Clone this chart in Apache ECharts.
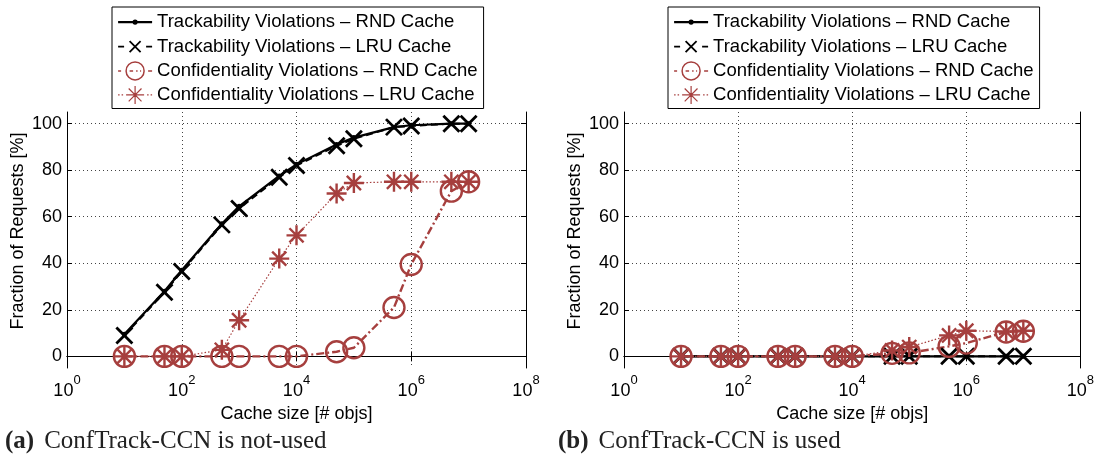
<!DOCTYPE html>
<html>
<head>
<meta charset="utf-8">
<script src="https://cdn.jsdelivr.net/npm/echarts@6/dist/echarts.min.js"></script>
<style>
html,body{margin:0;padding:0;background:#fff;}
#chart{width:1097px;height:455px;}
</style>
</head>
<body>
<div id="chart"></div>
<script>
// ---------- data ----------
const cacheSizes = [10, 50, 100, 500, 1000, 5000, 1e4, 5e4, 1e5, 5e5, 1e6, 5e6, 1e7];
const seriesNames = [
  'Trackability Violations – RND Cache',
  'Trackability Violations – LRU Cache',
  'Confidentiality Violations – RND Cache',
  'Confidentiality Violations – LRU Cache'
];
// (a) ConfTrack-CCN not used
const trackRndA = [9.5, 28, 37, 57, 64.5, 77.5, 82.5, 91, 94, 98.5, 99.3, 100, 100];
const trackLruA = [9, 27.5, 36.5, 56.5, 63.5, 77, 82, 90.5, 93.5, 98.5, 99, 100, 100];
const confRndA  = [0, 0, 0, 0, 0, 0, 0, 2, 3.7, 21, 39.5, 71, 75];
const confLruA  = [0, 0, 0, 2.8, 15.5, 42, 52, 70, 74.5, 75, 75, 75, 75];
// (b) ConfTrack-CCN used
const trackRndB = [0, 0, 0, 0, 0, 0, 0, 0, 0, 0, 0, 0, 0];
const trackLruB = [0, 0, 0, 0, 0, 0, 0, 0, 0, 0, 0, 0, 0];
const confRndB  = [0, 0, 0, 0, 0, 0, 0, 1.3, 1.5, 4.3, 5.7, 10.5, 10.8];
const confLruB  = [0, 0, 0, 0, 0, 0, 0, 2.5, 4, 9, 11, 10.7, 11];
const yTicks = [0, 20, 40, 60, 80, 100];
const captions = ['ConfTrack-CCN is not-used', 'ConfTrack-CCN is used'];
const captionTags = ['(a)', '(b)'];
const xAxisName = 'Cache size [# objs]';
const yAxisName = 'Fraction of Requests [%]';

// ---------- styles ----------
const RED = '#a63f3e';
const SANS = 'Liberation Sans, Arial, Helvetica, sans-serif';
const SERIF = 'Liberation Serif, Times New Roman, serif';
const X_SYM = 'path://M0,0L10,10M10,0L0,10';
const AST_SYM = 'path://M5,0L5,10M0,5L10,5M1.46,1.46L8.54,8.54M8.54,1.46L1.46,8.54';

const grids = [
  {left: 67, top: 112, width: 459, height: 256},
  {left: 624, top: 112, width: 459, height: 256}
];

function pairs(ys) { return cacheSizes.map((x, i) => [x, ys[i]]); }

const xAxes = [], yAxes = [], series = [];
const gridLine = {show: true, lineStyle: {color: '#444', type: [1, 3], width: 1}};
grids.forEach((g, gi) => {
  const supRich = {
    b: {fontSize: 18, fontFamily: SANS, color: '#000', lineHeight: 26, verticalAlign: 'bottom'},
    s: {fontSize: 13, fontFamily: SANS, color: '#000', lineHeight: 13, verticalAlign: 'top'}
  };
  xAxes.push({
    type: 'log', logBase: 10, min: 1, max: 1e8, interval: 2, gridIndex: gi, position: 'bottom',
    axisLine: {show: true, lineStyle: {color: '#000', width: 1}},
    axisTick: {show: true, inside: true, length: 5, lineStyle: {color: '#000'}},
    minorTick: {show: false},
    splitLine: gridLine,
    axisLabel: {
      margin: 6, color: '#000',
      formatter: v => '{b|10}{s|' + Math.round(Math.log10(v)) + '}',
      rich: supRich
    },
    name: xAxisName, nameLocation: 'middle', nameGap: 33,
    nameTextStyle: {fontFamily: SANS, fontSize: 18, color: '#000'}
  });
  xAxes.push({
    type: 'log', logBase: 10, min: 1, max: 1e8, interval: 2, gridIndex: gi, position: 'top',
    axisLine: {show: true, lineStyle: {color: '#000', width: 1}},
    axisTick: {show: true, inside: true, length: 5, lineStyle: {color: '#000'}},
    splitLine: {show: false}, axisLabel: {show: false}
  });
  yAxes.push({
    type: 'value', min: -5, max: 105, gridIndex: gi, position: 'left',
    axisLine: {show: true, lineStyle: {color: '#000', width: 1}},
    axisTick: {show: true, inside: true, length: 5, customValues: yTicks, lineStyle: {color: '#000'}},
    splitLine: gridLine,
    axisLabel: {customValues: yTicks, margin: 5, fontFamily: SANS, fontSize: 18, color: '#000'},
    name: yAxisName, nameLocation: 'middle', nameGap: 40, nameRotate: 90,
    nameTextStyle: {fontFamily: SANS, fontSize: 18, color: '#000', padding: [0, 0, 0, 18]}
  });
  yAxes.push({
    type: 'value', min: -5, max: 105, gridIndex: gi, position: 'right',
    axisLine: {show: true, lineStyle: {color: '#000', width: 1}},
    axisTick: {show: true, inside: true, length: 5, customValues: yTicks, lineStyle: {color: '#000'}},
    splitLine: {show: false}, axisLabel: {show: false}
  });
  const data = gi === 0 ? [trackRndA, trackLruA, confRndA, confLruA] : [trackRndB, trackLruB, confRndB, confLruB];
  const xi = gi * 2, yi = gi * 2;
  series.push({
    name: seriesNames[0], type: 'line', xAxisIndex: xi, yAxisIndex: yi, data: pairs(data[0]),
    symbol: 'circle', symbolSize: 5,
    itemStyle: {color: '#000'}, lineStyle: {color: '#000', width: 2.2, type: 'solid'}
  });
  series.push({
    name: seriesNames[1], type: 'line', xAxisIndex: xi, yAxisIndex: yi, data: pairs(data[1]),
    symbol: X_SYM, symbolSize: 16, symbolKeepAspect: true,
    itemStyle: {color: 'rgba(0,0,0,0)', borderColor: '#000', borderWidth: 2.8},
    lineStyle: {color: '#000', width: 2, type: [7, 4]}
  });
  series.push({
    name: seriesNames[2], type: 'line', xAxisIndex: xi, yAxisIndex: yi, data: pairs(data[2]),
    symbol: 'circle', symbolSize: 21,
    itemStyle: {color: 'rgba(0,0,0,0)', borderColor: RED, borderWidth: 2.4},
    lineStyle: {color: RED, width: 2.4, type: [8, 3, 2, 3]}
  });
  series.push({
    name: seriesNames[3], type: 'line', xAxisIndex: xi, yAxisIndex: yi, data: pairs(data[3]),
    symbol: AST_SYM, symbolSize: 20, symbolKeepAspect: true,
    itemStyle: {color: 'rgba(0,0,0,0)', borderColor: RED, borderWidth: 2.4},
    lineStyle: {color: RED, width: 1.2, type: [1.5, 2]}
  });
});

// legend icons (34 x 20 box)
const legendIcons = [
  {icon: 'path://M0,0M34,20M0,10L34,10M15.5,10A1.5,1.5,0,1,0,18.5,10A1.5,1.5,0,1,0,15.5,10',
   itemStyle: {color: '#000', borderColor: '#000', borderWidth: 2.2}},
  {icon: 'path://M0,0M34,20M0,10L6,10M28,10L34,10M11.5,4.5L22.5,15.5M22.5,4.5L11.5,15.5',
   itemStyle: {color: 'rgba(0,0,0,0)', borderColor: '#000', borderWidth: 1.8}},
  {icon: 'path://M0,0M34,20M8,10A9,9,0,1,0,26,10A9,9,0,1,0,8,10M0,10L3,10M30,10L34,10M11.5,10L15,10M18,10L19.5,10M22,10L23,10',
   itemStyle: {color: 'rgba(0,0,0,0)', borderColor: RED, borderWidth: 1.5}},
  {icon: 'path://M0,0M34,20M17,1L17,19M8,10L26,10M10.6,3.6L23.4,16.4M23.4,3.6L10.6,16.4M0,10L1.5,10M3.5,10L5,10M29,10L30.5,10M32.5,10L34,10',
   itemStyle: {color: 'rgba(0,0,0,0)', borderColor: RED, borderWidth: 1.2}}
];
const legendData = seriesNames.map((n, i) => Object.assign({name: n}, legendIcons[i]));
const legends = [112, 668].map(l => ({
  left: l, top: 7, orient: 'vertical', data: legendData, selectedMode: false,
  itemWidth: 34, itemHeight: 20, itemGap: 2.6,
  padding: [4, 6, 3, 5], borderColor: '#000', borderWidth: 1, backgroundColor: '#fff',
  textStyle: {fontFamily: SANS, fontSize: 18.5, color: '#000', lineHeight: 20}
}));

const titles = [0, 553].map((l, i) => ({
  left: l, top: 424,
  text: '{a|' + captionTags[i] + '}  {n|' + captions[i] + '}',
  textStyle: {
    fontWeight: 'normal',
    rich: {
      a: {fontFamily: SERIF, fontWeight: 'bold', fontSize: 25, color: '#222'},
      n: {fontFamily: SERIF, fontWeight: 'normal', fontSize: 25, color: '#222'}
    }
  }
}));

const chart = echarts.init(document.getElementById('chart'), null, {renderer: 'canvas'});
chart.setOption({
  animation: false,
  backgroundColor: '#fff',
  title: titles,
  legend: legends,
  grid: grids,
  xAxis: xAxes,
  yAxis: yAxes,
  series: series
});
</script>
</body>
</html>
